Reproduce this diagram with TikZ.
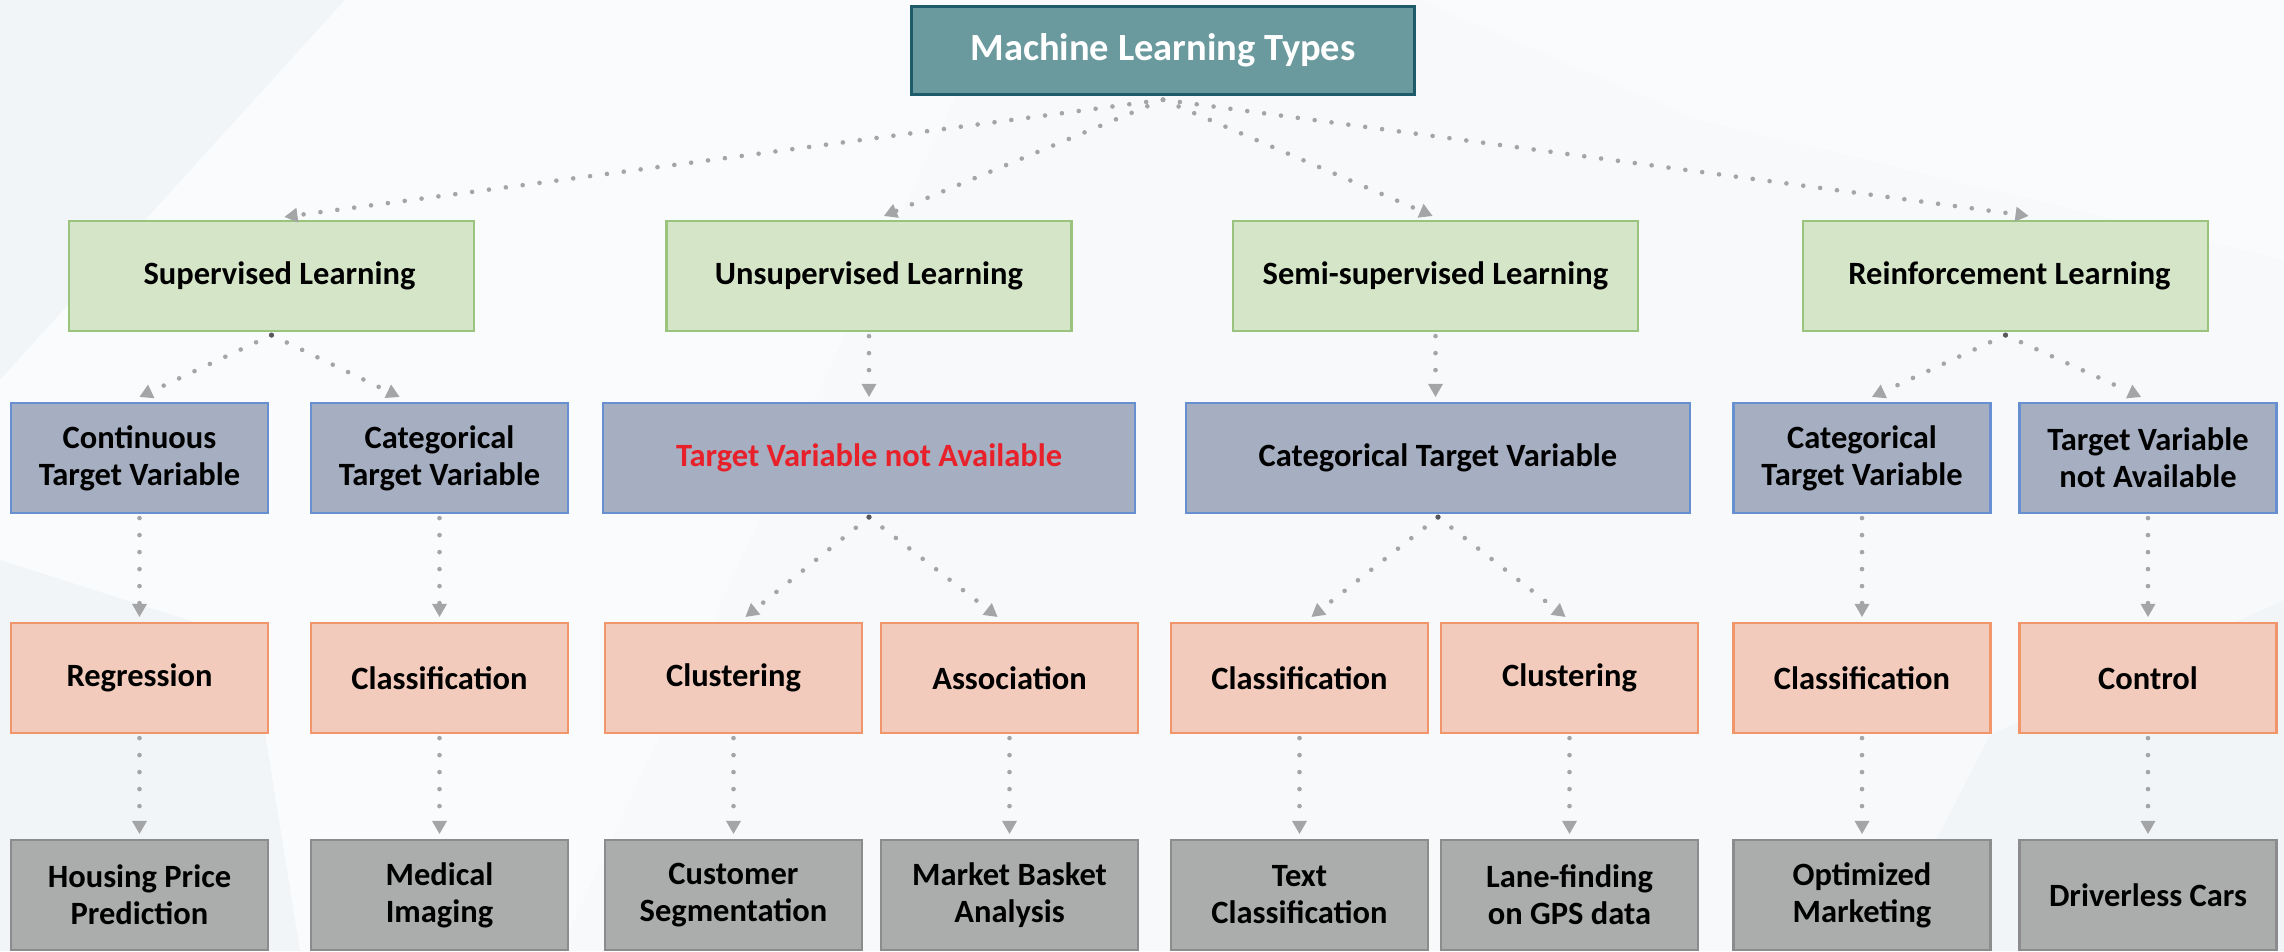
\documentclass[tikz,border=0pt]{standalone}
\usepackage{fontspec}
\setmainfont{Carlito}
\usetikzlibrary{arrows.meta,calc}

\definecolor{bgbase}{HTML}{F7F9FB}
\definecolor{bgdark}{HTML}{F2F5F7}
\definecolor{bglight}{HTML}{FAFBFD}
\definecolor{topfill}{HTML}{6A999E}
\definecolor{topline}{HTML}{1E5C6C}
\definecolor{grfill}{HTML}{D5E6C8}
\definecolor{grline}{HTML}{9AC47E}
\definecolor{blfill}{HTML}{A5AFC1}
\definecolor{blline}{HTML}{6690CF}
\definecolor{orfill}{HTML}{F2CBBC}
\definecolor{orline}{HTML}{F1956B}
\definecolor{gyfill}{HTML}{ABADAC}
\definecolor{gyline}{HTML}{8C8C8C}
\definecolor{linkgray}{HTML}{A3A5A7}
\definecolor{hotred}{HTML}{E8202A}

\begin{document}
\begin{tikzpicture}[x=1pt,y=-1pt,
  box/.style={draw, line width=2.2pt, inner sep=0pt, align=center,
    minimum height=110pt, minimum width=#1,
    font=\bfseries\fontsize{32.5}{37}\selectfont},
  box/.default=257pt,
  rootbox/.style={draw=topline, fill=topfill, line width=2.5pt, inner sep=0pt,
    minimum width=503pt, minimum height=88pt, text=white,
    font=\bfseries\fontsize{38.5}{44}\selectfont},
  learn/.style={box=405pt, fill=grfill, draw=grline},
  target/.style={box=#1, fill=blfill, draw=blline},
  target/.default=257pt,
  method/.style={box, fill=orfill, draw=orline},
  usecase/.style={box, fill=gyfill, draw=gyline},
  link/.style={draw=linkgray, line width=4.6pt, line cap=round,
    dash pattern=on 0pt off 17pt,
    -{Triangle[width=15pt,length=13pt,line width=0pt]}},
  knot/.style={fill=black!65}
]
\useasboundingbox (0,0) rectangle (2284,951);

% soft faceted background
\fill[bgbase] (0,0) rectangle (2284,951);
\fill[bgdark] (0,0) -- (345,0) -- (0,380) -- cycle;
\fill[bglight] (345,0) -- (1000,0) -- (560,951) -- (300,951) -- (250,640) -- (0,560) -- (0,380) -- cycle;
\fill[bgdark] (0,560) -- (250,640) -- (300,951) -- (0,951) -- cycle;
\fill[bglight] (1420,0) -- (2284,0) -- (2284,260) -- (1700,120) -- cycle;
\fill[bgdark] (1990,735) -- (2284,600) -- (2284,951) -- (1880,951) -- cycle;

% root
\node[rootbox] (top) at (1163,50.5) {Machine Learning Types};

% learning paradigms
\node[learn] (sup)  at (271.5,276) {\hspace*{16pt}Supervised Learning};
\node[learn] (uns)  at (869,276)   {Unsupervised Learning};
\node[learn] (semi) at (1435.5,276) {Semi-supervised Learning};
\node[learn] (rl)   at (2005.5,276) {\hspace*{8pt}Reinforcement Learning};

% target variables
\node[target] (cont)    at (139.5,458) {Continuous\\Target Variable};
\node[target] (catS)    at (439.5,458) {Categorical\\Target Variable};
\node[target=532pt, text=hotred] (tvnaU) at (869,458) {Target Variable not Available};
\node[target=504pt] (catSemi) at (1438,458) {Categorical Target Variable};
\node[target] (catR)    at (1862,458) {Categorical\\Target Variable};
\node[target] (tvnaR)   at (2148,458) {Target Variable\\not Available};

% methods
\node[method] (reg)     at (139.5,678)  {Regression};
\node[method] (clsS)    at (439.5,678)  {Classification};
\node[method] (clu)     at (733.5,678)  {Clustering};
\node[method] (asso)    at (1009.5,678) {Association};
\node[method] (clsSemi) at (1299.5,678) {Classification};
\node[method] (cluSemi) at (1569.5,678) {Clustering};
\node[method] (clsR)    at (1862,678)   {Classification};
\node[method] (ctrl)    at (2148,678)   {Control};

% applications
\node[usecase] (house)  at (139.5,895)  {Housing Price\\Prediction};
\node[usecase] (med)    at (439.5,895)  {Medical\\Imaging};
\node[usecase] (cust)   at (733.5,895)  {Customer\\Segmentation};
\node[usecase] (basket) at (1009.5,895) {Market Basket\\Analysis};
\node[usecase] (text)   at (1299.5,895) {Text\\Classification};
\node[usecase] (lane)   at (1569.5,895) {Lane-finding\\on GPS data};
\node[usecase] (mkt)    at (1862,895)   {Optimized\\Marketing};
\node[usecase] (cars)   at (2148,895)   {Driverless Cars};

% root to paradigms
\draw[link] ($(top.south)+(0,4)$) -- ($(sup.north)+(13,-3)$);
\draw[link] ($(top.south)+(0,4)$) -- ($(uns.north)+(15,-4)$);
\draw[link] ($(top.south)+(0,4)$) -- ($(semi.north)+(-3,-4)$);
\draw[link] ($(top.south)+(0,4)$) -- ($(rl.north)+(23,-4)$);

% paradigms to target variables
\draw[link] ($(sup.south)+(0,3)$) -- ($(cont.north)+(0,-5)$);
\draw[link] ($(sup.south)+(0,3)$) -- ($(catS.north)+(-40,-5)$);
\draw[link] ($(uns.south)+(0,4)$) -- ($(uns.south |- tvnaU.north)+(0,-5)$);
\draw[link] ($(semi.south)+(0,4)$) -- ($(semi.south |- catSemi.north)+(0,-5)$);
\draw[link] ($(rl.south)+(0,3)$) -- ($(catR.north)+(10,-5)$);
\draw[link] ($(rl.south)+(0,3)$) -- ($(tvnaR.north)+(-7,-5)$);

% target variables to methods
\draw[link] ($(cont.south)+(0,4)$) -- ($(reg.north)+(0,-5)$);
\draw[link] ($(catS.south)+(0,4)$) -- ($(clsS.north)+(0,-5)$);
\draw[link] ($(tvnaU.south)+(0,3)$) -- ($(clu.north)+(12,-5)$);
\draw[link] ($(tvnaU.south)+(0,3)$) -- ($(asso.north)+(-12,-5)$);
\draw[link] ($(catSemi.south)+(0,3)$) -- ($(clsSemi.north)+(12,-5)$);
\draw[link] ($(catSemi.south)+(0,3)$) -- ($(cluSemi.north)+(-4,-5)$);
\draw[link] ($(catR.south)+(0,4)$) -- ($(clsR.north)+(0,-5)$);
\draw[link] ($(tvnaR.south)+(0,4)$) -- ($(ctrl.north)+(0,-5)$);

% methods to applications
\foreach \a/\b in {reg/house, clsS/med, clu/cust, asso/basket,
                   clsSemi/text, cluSemi/lane, clsR/mkt, ctrl/cars}
  \draw[link] ($(\a.south)+(0,4)$) -- ($(\b.north)+(0,-5)$);

% branch points
\foreach \n in {sup, rl, tvnaU, catSemi}
  \fill[knot] ($(\n.south)+(0,3)$) circle (2.6pt);
\end{tikzpicture}
\end{document}
